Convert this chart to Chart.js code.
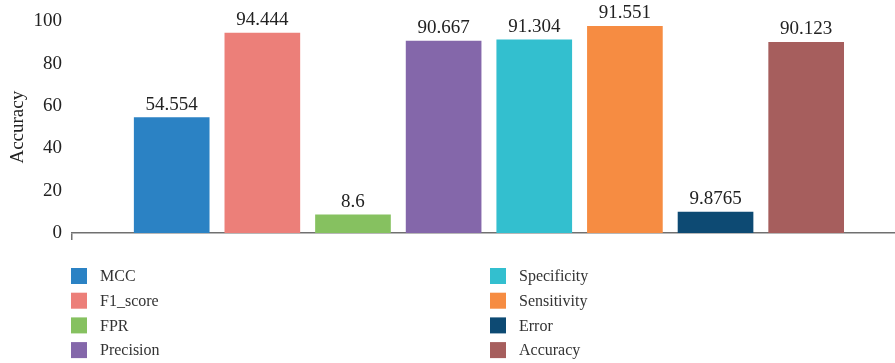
<!DOCTYPE html>
<html>
<head>
<meta charset="utf-8">
<script src="https://cdn.jsdelivr.net/npm/chart.js@4/dist/chart.umd.min.js"></script>
<style>
  html, body { margin: 0; padding: 0; background: #fff; }
  #wrap { width: 895px; height: 363px; }
</style>
</head>
<body>
<div id="wrap"><canvas id="metricsChart"></canvas></div>
<script>
// metric names, bar heights (as drawn) and the printed labels above the bars
const metrics = ['MCC', 'F1_score', 'FPR', 'Precision', 'Specificity', 'Sensitivity', 'Error', 'Accuracy'];
const barValues = [54.554, 94.444, 8.6, 90.667, 91.304, 97.7, 9.8765, 90.123];
const barLabels = ['54.554', '94.444', '8.6', '90.667', '91.304', '91.551', '9.8765', '90.123'];
const colors = ['#2b82c4', '#ec7f79', '#86c160', '#8467aa', '#33bfcf', '#f68c42', '#0d4a73', '#a65e5d'];
const yTicks = [0, 20, 40, 60, 80, 100];

const serif = '"Liberation Serif", "DejaVu Serif", serif';

// value text above each bar
const valueLabels = {
  id: 'valueLabels',
  afterDatasetsDraw(chart) {
    const ctx = chart.ctx;
    ctx.save();
    ctx.font = '19px ' + serif;
    ctx.fillStyle = '#222';
    ctx.textAlign = 'center';
    ctx.textBaseline = 'alphabetic';
    chart.data.datasets.forEach((ds, i) => {
      const bar = chart.getDatasetMeta(i).data[0];
      ctx.fillText(barLabels[i], bar.x, bar.y - 8);
    });
    ctx.restore();
  }
};

// two column legend under the plot
const gridLegend = {
  id: 'gridLegend',
  afterDraw(chart) {
    const ctx = chart.ctx;
    ctx.save();
    ctx.font = '16px ' + serif;
    ctx.textBaseline = 'middle';
    ctx.textAlign = 'left';
    chart.data.datasets.forEach((ds, i) => {
      const col = Math.floor(i / 4);
      const row = i % 4;
      const x = col === 0 ? 71 : 490;
      const y = 276 + row * 24.7;
      ctx.fillStyle = ds.backgroundColor;
      ctx.fillRect(x, y - 8, 16, 16);
      ctx.fillStyle = '#333';
      ctx.fillText(ds.label, x + 29, y + 1);
    });
    ctx.restore();
  }
};

const datasets = metrics.map((name, i) => ({
  label: name,
  data: [{ x: i, y: barValues[i] }],
  backgroundColor: colors[i],
  borderWidth: 0,
  grouped: false,
  barThickness: 75
}));

new Chart(document.getElementById('metricsChart'), {
  type: 'bar',
  data: { datasets: datasets },
  options: {
    responsive: true,
    maintainAspectRatio: false,
    animation: false,
    layout: { padding: { top: 18, right: 0, bottom: 123, left: 0 } },
    plugins: {
      legend: { display: false },
      tooltip: { enabled: false }
    },
    scales: {
      x: {
        type: 'linear',
        offset: false,
        min: -1.1,
        max: 7.98,
        afterBuildTicks: (scale) => { scale.ticks = [{ value: scale.min }]; },
        afterFit: (scale) => { scale.height = 7; },
        ticks: { display: false },
        grid: { display: true, offset: false, drawOnChartArea: false, drawTicks: true, tickLength: 7, color: '#707070', lineWidth: 1.5 },
        border: { display: true, color: '#707070', width: 1.5 }
      },
      y: {
        min: 0,
        max: 100,
        afterBuildTicks: (scale) => { scale.ticks = yTicks.map(v => ({ value: v })); },
        afterFit: (scale) => { scale.width = 72; },
        ticks: { color: '#222', font: { family: serif, size: 19 }, padding: 10 },
        grid: { display: false, drawTicks: false },
        border: { display: false },
        title: { display: true, text: 'Accuracy', color: '#222', font: { family: serif, size: 19 }, padding: { top: 7, bottom: 0 } }
      }
    }
  },
  plugins: [valueLabels, gridLegend]
});
</script>
</body>
</html>
